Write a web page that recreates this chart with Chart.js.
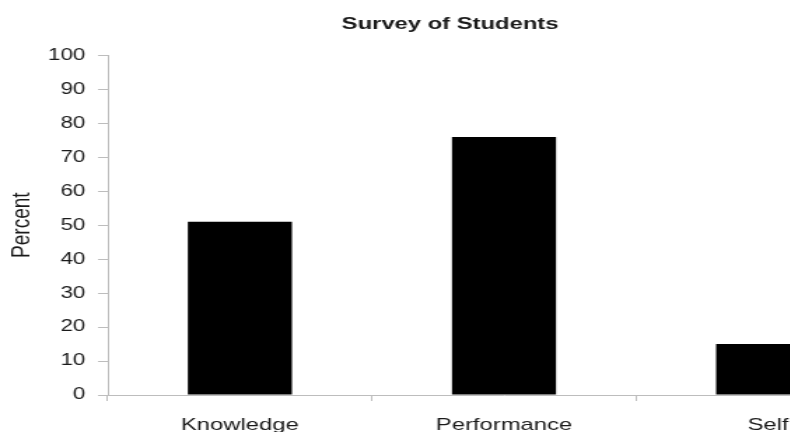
<!DOCTYPE html>
<html>
<head>
<meta charset="utf-8">
<script src="https://cdn.jsdelivr.net/npm/chart.js@4/dist/chart.umd.min.js"></script>
<style>
  html, body { margin: 0; padding: 0; background: #fff; overflow: hidden; width: 790px; height: 432px; }
  /* the source picture is stretched sideways, so the whole chart is too */
  #wrap { width: 643px; height: 432px; transform: scaleX(1.4); transform-origin: 0 0; }
</style>
</head>
<body>
<div id="wrap"><canvas id="chart" width="643" height="432"></canvas></div>
<script>
const categories = ['Knowledge', 'Performance', 'Self'];
const percentValues = [51, 76, 15];
const yTicks = [0, 10, 20, 30, 40, 50, 60, 70, 80, 90, 100];

const fontFamily = '"Liberation Sans", Arial, sans-serif';
const axisGray = '#bdbdbd';
const textColor = '#1a1a1a';

const ctx = document.getElementById('chart');

new Chart(ctx, {
  type: 'bar',
  data: {
    labels: categories,
    datasets: [{
      label: 'Percent',
      data: percentValues,
      backgroundColor: '#000',
      borderWidth: 0,
      barPercentage: 0.394,
      categoryPercentage: 1
    }]
  },
  options: {
    responsive: false,
    animation: false,
    devicePixelRatio: 1,
    layout: { padding: 0 },
    plugins: {
      legend: { display: false },
      tooltip: { enabled: false },
      title: {
        display: true,
        text: 'Survey of Students',
        color: textColor,
        font: { family: fontFamily, size: 17, weight: 'bold' },
        padding: { top: 14, bottom: 21 }
      }
    },
    scales: {
      x: {
        grid: { offset: true, drawOnChartArea: false, tickLength: 6, color: axisGray },
        border: { color: axisGray },
        ticks: { padding: 14, color: textColor, font: { family: fontFamily, size: 17 } },
        afterFit: (scale) => { scale.height = 37; }
      },
      y: {
        min: 0,
        max: 100,
        afterBuildTicks: (scale) => { scale.ticks = yTicks.map(v => ({ value: v })); },
        grid: { drawOnChartArea: false, tickLength: 7, color: axisGray },
        border: { color: axisGray },
        ticks: { padding: 9, color: textColor, font: { family: fontFamily, size: 16 } },
        title: {
          display: true,
          text: 'Percent',
          color: textColor,
          font: { family: fontFamily, size: 19 },
          padding: { top: 4, bottom: 0 }
        },
        afterFit: (scale) => { scale.width = 77; }
      }
    }
  }
});
</script>
</body>
</html>
